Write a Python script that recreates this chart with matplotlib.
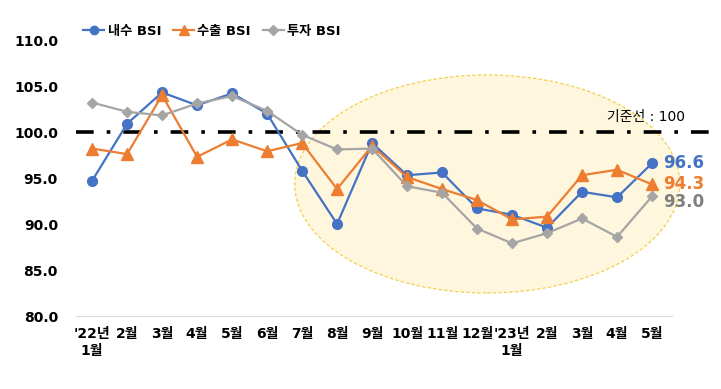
import numpy as np
import matplotlib.pyplot as plt
from matplotlib.patches import Ellipse
from matplotlib.lines import Line2D

# %% data
months = ["'22년\n1월", "2월", "3월", "4월", "5월", "6월", "7월", "8월", "9월",
          "10월", "11월", "12월", "'23년\n1월", "2월", "3월", "4월", "5월"]
domestic = [94.7, 100.9, 104.3, 102.9, 104.2, 102.0, 95.8, 90.0, 98.8,
            95.3, 95.6, 91.7, 91.0, 89.6, 93.5, 92.9, 96.6]
export = [98.2, 97.6, 104.0, 97.3, 99.2, 97.9, 98.8, 93.8, 98.5,
          95.1, 93.8, 92.6, 90.5, 90.8, 95.3, 95.9, 94.3]
invest = [103.2, 102.2, 101.8, 103.1, 103.9, 102.3, 99.7, 98.1, 98.2,
          94.1, 93.4, 89.5, 87.9, 89.0, 90.6, 88.6, 93.0]
series_names = ["내수 BSI", "수출 BSI", "투자 BSI"]
yticks = [80, 85, 90, 95, 100, 105, 110]
base_line = 100

fonts = ['DejaVu Sans', 'Noto Sans CJK KR']
plt.rcParams['font.family'] = fonts

blue, orange, gray = '#4472C4', '#ED7D31', '#A5A5A5'

# %% plot
fig = plt.figure(figsize=(7.21, 3.89), dpi=100)
ax = fig.add_axes([76 / 721, 73 / 389, 596 / 721, 276 / 389])
x = np.arange(len(months))

# highlight ellipse
ell = Ellipse((11.29, 94.35), 11.0, 23.7, facecolor='#FFF6DE', edgecolor='#F2CB3A',
              linestyle=(0, (3, 2)), linewidth=0.8, clip_on=False, zorder=0)
ax.add_patch(ell)

# reference line
ax.plot([-0.46, 17.95], [base_line, base_line], color='black', linewidth=2.6,
        dashes=(4.9, 3.6, 1.0, 3.6), clip_on=False, zorder=1)
ax.text(16.95, 101.6, "기준선 : 100", ha='right', va='center', fontsize=10)

ax.plot(x, domestic, color=blue, marker='o', markersize=7, linewidth=1.6, zorder=3)
ax.plot(x, export, color=orange, marker='^', markersize=8, linewidth=1.6, zorder=3)
ax.plot(x, invest, color=gray, marker='D', markersize=5.5, linewidth=1.6, zorder=3)

# end labels
ax.text(x[-1] + 0.33, domestic[-1], f"{domestic[-1]:.1f}", color=blue, fontsize=12,
        fontweight='bold', va='center', ha='left', clip_on=False)
ax.text(x[-1] + 0.33, export[-1], f"{export[-1]:.1f}", color=orange, fontsize=12,
        fontweight='bold', va='center', ha='left', clip_on=False)
ax.text(x[-1] + 0.33, invest[-1] - 0.65, f"{invest[-1]:.1f}", color='#7F7F7F', fontsize=12,
        fontweight='bold', va='center', ha='left', clip_on=False)

ax.set_xlim(-0.46, 16.57)
ax.set_ylim(80, 110)
ax.set_xticks(x)
ax.set_xticklabels(months, fontsize=10, fontweight='bold', linespacing=1.3)
ax.set_yticks(yticks)
ax.set_yticklabels([f"{v:.1f}" for v in yticks], fontsize=10, fontweight='bold')
ax.tick_params(length=0, pad=8)
ax.tick_params(axis='y', pad=13)
for s in ['top', 'right', 'left']:
    ax.spines[s].set_visible(False)
ax.spines['bottom'].set_color('#D9D9D9')

handles = [Line2D([], [], color=blue, marker='o', markersize=6, linewidth=1.6),
           Line2D([], [], color=orange, marker='^', markersize=7, linewidth=1.6),
           Line2D([], [], color=gray, marker='D', markersize=5, linewidth=1.6)]
fig.legend(handles, series_names, loc='center', bbox_to_anchor=(212 / 721, 1 - 31 / 389),
           ncol=3, frameon=False, handlelength=1.6, handletextpad=0.25, columnspacing=0.9,
           prop={'family': fonts, 'size': 9.5, 'weight': 'bold'})

fig.savefig('out.png', dpi=100)
